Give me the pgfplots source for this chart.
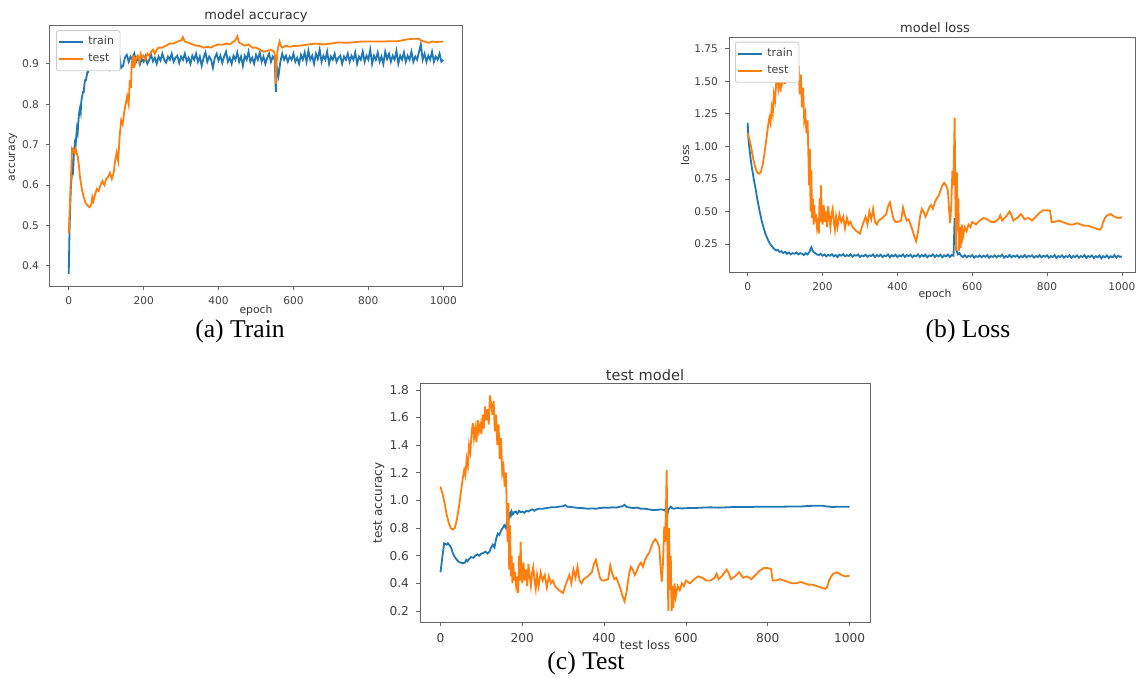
\documentclass[border=0pt]{standalone}
\usepackage{fontspec}
\setmainfont{Liberation Serif}
\newfontfamily\dv{DejaVu Sans}
\usepackage{pgfplots}
\pgfplotsset{compat=1.18}
\usepackage{pgfplotstable}

\definecolor{tabblue}{HTML}{1F77B4}
\definecolor{taborange}{HTML}{FF7F0E}

% train accuracy (a)
\pgfplotstableread[row sep=\\]{e v\\
0 0.38\\ 2 0.48\\ 4 0.55\\ 6 0.60\\ 8 0.62\\ 10 0.65\\ 12 0.64\\ 14 0.68\\ 16 0.70\\ 18 0.69\\
20 0.72\\ 22 0.74\\ 24 0.73\\ 26 0.76\\ 28 0.78\\ 30 0.79\\ 32 0.78\\ 34 0.81\\ 36 0.82\\ 38 0.83\\
40 0.83\\ 42 0.85\\ 44 0.86\\ 46 0.86\\ 48 0.87\\ 50 0.88\\ 52 0.88\\ 55 0.89\\ 58 0.89\\ 61 0.90\\
64 0.895\\ 67 0.90\\ 70 0.905\\ 73 0.90\\ 76 0.895\\ 80 0.905\\ 85 0.91\\ 90 0.90\\ 95 0.912\\ 100 0.905\\
105 0.915\\ 110 0.89\\ 115 0.908\\ 120 0.918\\ 125 0.902\\ 130 0.912\\ 135 0.92\\ 140 0.89\\ 145 0.895\\ 150 0.915\\
155 0.922\\ 160 0.905\\ 165 0.918\\ 170 0.91\\ 175 0.925\\ 180 0.905\\ 185 0.915\\ 190 0.898\\ 195 0.912\\ 200 0.905\\
205 0.918\\ 210 0.90\\ 215 0.91\\ 220 0.922\\ 225 0.906\\ 230 0.915\\ 235 0.90\\ 240 0.918\\ 245 0.908\\ 250 0.925\\
255 0.91\\ 260 0.903\\ 265 0.918\\ 270 0.91\\ 275 0.925\\ 280 0.905\\ 285 0.915\\ 290 0.92\\ 295 0.902\\ 300 0.918\\
305 0.91\\ 310 0.925\\ 315 0.906\\ 320 0.915\\ 325 0.90\\ 330 0.92\\ 335 0.91\\ 340 0.925\\ 345 0.905\\ 350 0.918\\
355 0.895\\ 360 0.915\\ 365 0.928\\ 370 0.905\\ 375 0.918\\ 380 0.91\\ 385 0.89\\ 390 0.915\\ 395 0.925\\ 400 0.908\\
405 0.92\\ 410 0.902\\ 415 0.918\\ 420 0.93\\ 425 0.905\\ 430 0.915\\ 435 0.90\\ 440 0.92\\ 445 0.91\\ 450 0.928\\
455 0.905\\ 460 0.918\\ 465 0.895\\ 470 0.92\\ 475 0.91\\ 480 0.93\\ 485 0.905\\ 490 0.915\\ 495 0.90\\ 500 0.922\\
505 0.91\\ 510 0.928\\ 515 0.905\\ 520 0.918\\ 525 0.90\\ 530 0.915\\ 535 0.925\\ 540 0.905\\ 545 0.918\\ 550 0.91\\
553 0.83\\ 556 0.89\\ 560 0.87\\ 565 0.905\\ 570 0.925\\ 575 0.91\\ 580 0.92\\ 585 0.905\\ 590 0.918\\ 595 0.91\\
600 0.925\\ 605 0.905\\ 610 0.915\\ 615 0.90\\ 620 0.922\\ 625 0.91\\ 630 0.928\\ 635 0.905\\ 640 0.932\\ 645 0.91\\
650 0.92\\ 655 0.90\\ 660 0.925\\ 665 0.912\\ 670 0.935\\ 675 0.905\\ 680 0.92\\ 685 0.91\\ 690 0.93\\ 695 0.90\\
700 0.918\\ 705 0.91\\ 710 0.925\\ 715 0.905\\ 720 0.915\\ 725 0.92\\ 730 0.90\\ 735 0.918\\ 740 0.91\\ 745 0.925\\
750 0.905\\ 755 0.92\\ 760 0.91\\ 765 0.928\\ 770 0.90\\ 775 0.918\\ 780 0.91\\ 785 0.93\\ 790 0.905\\ 795 0.92\\
800 0.91\\ 805 0.935\\ 810 0.90\\ 815 0.92\\ 820 0.91\\ 825 0.928\\ 830 0.905\\ 835 0.918\\ 840 0.90\\ 845 0.93\\
850 0.912\\ 855 0.925\\ 860 0.905\\ 865 0.92\\ 870 0.91\\ 875 0.932\\ 880 0.90\\ 885 0.92\\ 890 0.91\\ 895 0.928\\
900 0.905\\ 905 0.92\\ 910 0.91\\ 915 0.93\\ 920 0.905\\ 925 0.918\\ 930 0.91\\ 935 0.928\\ 940 0.948\\ 945 0.91\\
950 0.925\\ 955 0.905\\ 960 0.92\\ 965 0.91\\ 970 0.93\\ 975 0.905\\ 980 0.918\\ 985 0.91\\ 990 0.925\\ 995 0.905\\
1000 0.91\\
}\trainacc

% test accuracy (a orange, c blue)
\pgfplotstableread[row sep=\\]{e v\\
0 0.48\\ 3 0.55\\ 6 0.62\\ 9 0.69\\ 12 0.685\\ 15 0.68\\ 18 0.69\\ 21 0.68\\ 24 0.67\\ 27 0.65\\
30 0.62\\ 35 0.59\\ 40 0.57\\ 45 0.555\\ 50 0.55\\ 55 0.545\\ 60 0.55\\ 63 0.57\\ 66 0.56\\ 70 0.575\\
75 0.59\\ 80 0.585\\ 85 0.60\\ 90 0.61\\ 95 0.60\\ 100 0.615\\ 105 0.62\\ 110 0.63\\ 115 0.615\\ 120 0.63\\
124 0.66\\ 128 0.68\\ 132 0.66\\ 136 0.72\\ 140 0.76\\ 144 0.75\\ 148 0.78\\ 152 0.80\\ 156 0.82\\ 160 0.80\\
163 0.86\\ 166 0.84\\ 168 0.90\\ 170 0.91\\ 172 0.89\\ 174 0.92\\ 177 0.90\\ 180 0.915\\ 184 0.92\\ 188 0.905\\
192 0.925\\ 196 0.915\\ 200 0.92\\ 205 0.91\\ 210 0.925\\ 215 0.92\\ 220 0.93\\ 225 0.935\\ 230 0.925\\ 235 0.935\\
240 0.94\\ 250 0.94\\ 260 0.945\\ 270 0.95\\ 280 0.95\\ 290 0.955\\ 300 0.958\\ 305 0.966\\ 310 0.955\\ 320 0.952\\
330 0.948\\ 340 0.945\\ 350 0.944\\ 360 0.94\\ 370 0.942\\ 380 0.94\\ 390 0.945\\ 400 0.948\\ 410 0.947\\ 420 0.95\\
430 0.948\\ 440 0.955\\ 445 0.958\\ 450 0.968\\ 455 0.952\\ 460 0.95\\ 470 0.945\\ 480 0.948\\ 490 0.94\\ 500 0.94\\
510 0.935\\ 520 0.93\\ 530 0.932\\ 540 0.935\\ 548 0.93\\ 551 0.92\\ 553 0.85\\ 555 0.90\\ 557 0.93\\ 560 0.945\\
563 0.955\\ 566 0.945\\ 570 0.94\\ 580 0.945\\ 590 0.942\\ 600 0.944\\ 620 0.945\\ 640 0.948\\ 660 0.95\\ 680 0.948\\
700 0.95\\ 720 0.953\\ 740 0.952\\ 760 0.953\\ 780 0.955\\ 800 0.955\\ 820 0.955\\ 840 0.955\\ 860 0.956\\ 880 0.956\\
900 0.96\\ 920 0.962\\ 935 0.962\\ 940 0.958\\ 950 0.955\\ 960 0.952\\ 970 0.955\\ 980 0.954\\ 1000 0.955\\
}\testacc

% train loss (b blue)
\pgfplotstableread[row sep=\\]{e v\\
0 1.18\\ 2 1.05\\ 4 1.00\\ 6 0.95\\ 8 0.90\\ 10 0.86\\ 12 0.82\\ 14 0.79\\ 16 0.75\\ 18 0.72\\
20 0.69\\ 22 0.66\\ 24 0.62\\ 26 0.59\\ 28 0.56\\ 30 0.53\\ 32 0.50\\ 35 0.46\\ 38 0.42\\ 41 0.39\\
44 0.36\\ 47 0.33\\ 50 0.31\\ 53 0.29\\ 56 0.27\\ 60 0.25\\ 64 0.235\\ 68 0.22\\ 72 0.21\\ 76 0.20\\
80 0.205\\ 85 0.19\\ 90 0.195\\ 95 0.18\\ 100 0.19\\ 105 0.175\\ 110 0.185\\ 115 0.17\\ 120 0.18\\ 125 0.175\\
130 0.185\\ 135 0.17\\ 140 0.18\\ 145 0.175\\ 150 0.165\\ 155 0.18\\ 160 0.17\\ 165 0.19\\ 170 0.225\\ 175 0.19\\
180 0.18\\ 185 0.17\\ 190 0.165\\ 195 0.175\\ 200 0.16\\ 205 0.17\\ 210 0.155\\ 215 0.168\\ 220 0.16\\ 225 0.172\\
230 0.155\\ 235 0.165\\ 240 0.15\\ 245 0.168\\ 250 0.16\\ 255 0.172\\ 260 0.155\\ 265 0.165\\ 270 0.158\\ 275 0.17\\
280 0.152\\ 285 0.165\\ 290 0.16\\ 295 0.17\\ 300 0.15\\ 305 0.162\\ 310 0.155\\ 315 0.168\\ 320 0.152\\ 325 0.163\\
330 0.158\\ 335 0.17\\ 340 0.15\\ 345 0.165\\ 350 0.155\\ 355 0.168\\ 360 0.15\\ 365 0.162\\ 370 0.157\\ 375 0.17\\
380 0.148\\ 385 0.165\\ 390 0.155\\ 395 0.168\\ 400 0.15\\ 405 0.163\\ 410 0.155\\ 415 0.17\\ 420 0.15\\ 425 0.165\\
430 0.157\\ 435 0.168\\ 440 0.148\\ 445 0.162\\ 450 0.155\\ 455 0.17\\ 460 0.15\\ 465 0.165\\ 470 0.155\\ 475 0.168\\
480 0.148\\ 485 0.162\\ 490 0.157\\ 495 0.17\\ 500 0.15\\ 505 0.165\\ 510 0.155\\ 515 0.168\\ 520 0.148\\ 525 0.163\\
530 0.155\\ 535 0.17\\ 540 0.15\\ 545 0.165\\ 550 0.16\\ 553 0.45\\ 556 0.30\\ 558 0.20\\ 562 0.17\\ 566 0.18\\
570 0.16\\ 575 0.15\\ 580 0.165\\ 585 0.148\\ 590 0.16\\ 595 0.152\\ 600 0.165\\ 605 0.145\\ 610 0.158\\ 615 0.15\\
620 0.163\\ 625 0.148\\ 630 0.16\\ 635 0.152\\ 640 0.165\\ 645 0.145\\ 650 0.158\\ 655 0.15\\ 660 0.163\\ 665 0.148\\
670 0.16\\ 675 0.153\\ 680 0.167\\ 685 0.145\\ 690 0.158\\ 695 0.15\\ 700 0.165\\ 705 0.148\\ 710 0.16\\ 715 0.152\\
720 0.163\\ 725 0.145\\ 730 0.158\\ 735 0.15\\ 740 0.165\\ 745 0.148\\ 750 0.16\\ 755 0.153\\ 760 0.163\\ 765 0.145\\
770 0.158\\ 775 0.15\\ 780 0.165\\ 785 0.148\\ 790 0.16\\ 795 0.152\\ 800 0.163\\ 805 0.145\\ 810 0.157\\ 815 0.15\\
820 0.165\\ 825 0.143\\ 830 0.158\\ 835 0.15\\ 840 0.163\\ 845 0.145\\ 850 0.157\\ 855 0.15\\ 860 0.165\\ 865 0.143\\
870 0.158\\ 875 0.15\\ 880 0.163\\ 885 0.145\\ 890 0.157\\ 895 0.15\\ 900 0.165\\ 905 0.143\\ 910 0.158\\ 915 0.15\\
920 0.162\\ 925 0.142\\ 930 0.157\\ 935 0.148\\ 940 0.162\\ 945 0.14\\ 950 0.157\\ 955 0.148\\ 960 0.163\\ 965 0.142\\
970 0.157\\ 975 0.148\\ 980 0.165\\ 985 0.145\\ 990 0.16\\ 995 0.15\\ 1000 0.155\\
}\trainloss

% test loss (b orange, c orange)
\pgfplotstableread[row sep=\\]{e v\\
0 1.10\\ 5 1.05\\ 10 0.98\\ 15 0.90\\ 20 0.84\\ 25 0.80\\ 30 0.79\\ 35 0.80\\ 40 0.86\\ 45 0.95\\
50 1.06\\ 55 1.17\\ 58 1.22\\ 61 1.18\\ 64 1.30\\ 67 1.25\\ 70 1.40\\ 73 1.35\\ 76 1.48\\ 79 1.56\\
82 1.45\\ 85 1.52\\ 88 1.42\\ 91 1.58\\ 94 1.50\\ 97 1.55\\ 100 1.48\\ 103 1.62\\ 106 1.52\\ 109 1.68\\
112 1.58\\ 115 1.66\\ 118 1.55\\ 121 1.76\\ 124 1.70\\ 127 1.62\\ 130 1.72\\ 133 1.50\\ 136 1.62\\ 139 1.40\\
142 1.55\\ 145 1.30\\ 148 1.45\\ 151 1.20\\ 154 1.25\\ 157 1.10\\ 160 1.20\\ 162 0.95\\ 164 0.70\\ 166 0.98\\
168 0.50\\ 170 0.82\\ 172 0.45\\ 174 0.60\\ 176 0.40\\ 178 0.55\\ 180 0.42\\ 182 0.48\\ 185 0.38\\ 188 0.45\\
190 0.33\\ 192 0.60\\ 194 0.42\\ 196 0.70\\ 198 0.45\\ 200 0.40\\ 203 0.55\\ 206 0.42\\ 209 0.50\\ 212 0.38\\
215 0.54\\ 218 0.45\\ 221 0.38\\ 224 0.48\\ 227 0.52\\ 230 0.42\\ 233 0.36\\ 236 0.46\\ 240 0.38\\ 245 0.48\\
250 0.42\\ 255 0.46\\ 260 0.37\\ 265 0.45\\ 270 0.40\\ 275 0.42\\ 280 0.38\\ 290 0.35\\ 300 0.33\\ 305 0.38\\
310 0.42\\ 315 0.46\\ 320 0.40\\ 325 0.50\\ 330 0.44\\ 335 0.52\\ 340 0.42\\ 345 0.40\\ 350 0.43\\ 360 0.45\\
370 0.48\\ 375 0.54\\ 380 0.57\\ 385 0.50\\ 390 0.44\\ 395 0.42\\ 400 0.42\\ 410 0.43\\ 415 0.53\\ 420 0.47\\
425 0.43\\ 430 0.44\\ 440 0.36\\ 445 0.31\\ 450 0.27\\ 455 0.34\\ 460 0.45\\ 465 0.52\\ 470 0.50\\ 475 0.46\\
480 0.49\\ 485 0.53\\ 490 0.55\\ 495 0.52\\ 500 0.57\\ 505 0.60\\ 510 0.62\\ 515 0.66\\ 520 0.70\\ 525 0.72\\
530 0.70\\ 535 0.66\\ 538 0.52\\ 541 0.41\\ 544 0.55\\ 547 0.81\\ 549 0.70\\ 551 0.90\\ 553 1.22\\ 555 0.60\\
557 0.20\\ 559 0.80\\ 561 0.35\\ 563 0.60\\ 565 0.20\\ 567 0.38\\ 569 0.22\\ 572 0.40\\ 575 0.30\\ 580 0.38\\
585 0.35\\ 590 0.40\\ 595 0.38\\ 600 0.42\\ 610 0.40\\ 620 0.43\\ 630 0.45\\ 640 0.44\\ 650 0.42\\ 660 0.42\\
670 0.44\\ 675 0.47\\ 680 0.43\\ 690 0.46\\ 700 0.50\\ 705 0.47\\ 710 0.43\\ 720 0.45\\ 730 0.48\\ 740 0.44\\
750 0.45\\ 760 0.43\\ 770 0.46\\ 780 0.49\\ 790 0.51\\ 800 0.51\\ 808 0.505\\ 812 0.42\\ 820 0.42\\ 830 0.43\\
840 0.42\\ 850 0.41\\ 860 0.40\\ 870 0.40\\ 880 0.41\\ 890 0.40\\ 900 0.39\\ 910 0.39\\ 920 0.38\\ 930 0.37\\
940 0.36\\ 945 0.37\\ 950 0.42\\ 955 0.45\\ 960 0.47\\ 970 0.48\\ 980 0.46\\ 990 0.45\\ 1000 0.455\\
}\testloss

\pgfplotsset{
  mpl/.style={
    scale only axis, anchor=south west,
    axis line style={black!60, line width=0.5pt},
    tick align=outside, major tick length=2pt,
    every tick/.style={black!60, line width=0.4pt},
    xtick pos=bottom, ytick pos=left,
    xtick={0,200,...,1000},
    /pgf/number format/assume math mode=true,
    xticklabel style={/pgf/number format/.cd, set thousands separator={}},
    tick label style={font=\dv\fontsize{5.3}{6}\selectfont, text=black!75},
    legend style={at={(0.015,0.98)}, anchor=north west, draw=black!20,
      rounded corners=1pt, font=\dv\fontsize{5.5}{6.5}\selectfont, text=black!75,
      inner sep=1pt, row sep=-1pt, cells={anchor=west}},
    legend image code/.code={\draw[#1, line width=0.9pt, sharp corners] (0pt,0pt) -- (12pt,0pt);},
    every axis plot/.append style={line width=0.9pt, no marks},
  }
}

\begin{document}
\begin{tikzpicture}
\path[use as bounding box] (0,0) rectangle (568pt,338.5pt);

% (a) model accuracy
\begin{axis}[mpl, at={(25pt,195.5pt)}, width=206pt, height=130.5pt,
  xmin=-50, xmax=1050, ymin=0.35, ymax=0.996,
  ytick={0.4,0.5,...,0.9},
  yticklabel style={/pgf/number format/.cd, fixed, fixed zerofill, precision=1}]
\addplot[tabblue] table[x=e, y=v] {\trainacc};
\addplot[taborange] table[x=e, y=v] {\testacc};
\legend{train, test}
\end{axis}

% (b) model loss
\begin{axis}[mpl, at={(364.5pt,202.5pt)}, width=203pt, height=117.5pt,
  xmin=-50, xmax=1035, ymin=0.035, ymax=1.84,
  ytick={0.25,0.5,...,1.75},
  yticklabel style={/pgf/number format/.cd, fixed, fixed zerofill, precision=2}]
\addplot[tabblue] table[x=e, y=v] {\trainloss};
\addplot[taborange] table[x=e, y=v] {\testloss};
\legend{train, test}
\end{axis}

% (c) test model
\begin{axis}[mpl, at={(210pt,27.5pt)}, width=225pt, height=119.5pt,
  xmin=-50, xmax=1050, ymin=0.12, ymax=1.85,
  ytick={0.2,0.4,...,1.8},
  tick label style={font=\dv\fontsize{6.1}{7}\selectfont, text=black!75},
  yticklabel style={/pgf/number format/.cd, fixed, fixed zerofill, precision=1}]
\addplot[tabblue] table[x=e, y=v] {\testacc};
\addplot[taborange] table[x=e, y=v] {\testloss};
\end{axis}

% titles, axis labels and captions
\begin{scope}[every node/.style={text=black!80, inner sep=0pt}]
\node[font=\dv\fontsize{6.5}{7}\selectfont] at (128pt,330.5pt) {model accuracy};
\node[font=\dv\fontsize{5.4}{6}\selectfont] at (128pt,183pt) {epoch};
\node[font=\dv\fontsize{5.4}{6}\selectfont, rotate=90] at (6.5pt,260pt) {accuracy};
\node[font=\dv\fontsize{6.5}{7}\selectfont] at (467.5pt,324.5pt) {model loss};
\node[font=\dv\fontsize{5.4}{6}\selectfont] at (467.5pt,191pt) {epoch};
\node[font=\dv\fontsize{5.4}{6}\selectfont, rotate=90] at (342.5pt,261pt) {loss};
\node[font=\dv\fontsize{7.3}{8}\selectfont] at (322.5pt,151pt) {test model};
\node[font=\dv\fontsize{6}{7}\selectfont] at (322.5pt,16pt) {test loss};
\node[font=\dv\fontsize{6}{7}\selectfont, rotate=90] at (189.5pt,87pt) {test accuracy};
\end{scope}
\node[font=\fontsize{12.8}{14}\selectfont, inner sep=0pt] at (120pt,173pt) {(a) Train};
\node[font=\fontsize{12.8}{14}\selectfont, inner sep=0pt] at (484pt,173pt) {(b) Loss};
\node[font=\fontsize{12.8}{14}\selectfont, inner sep=0pt] at (293pt,7pt) {(c) Test};
\end{tikzpicture}
\end{document}
